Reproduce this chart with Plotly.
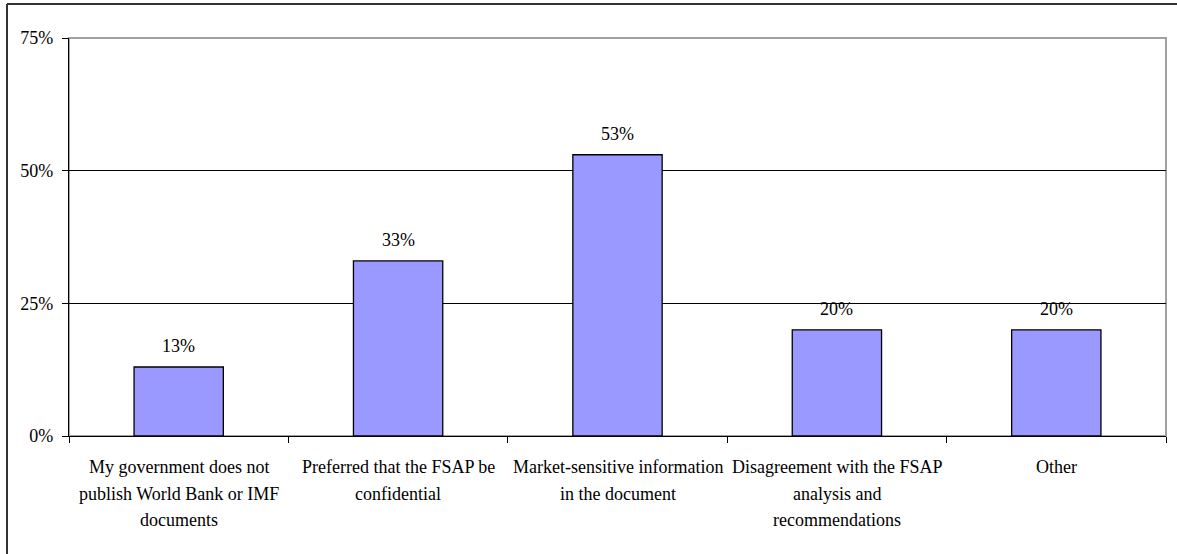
import plotly.graph_objects as go

# Survey responses: reasons for not publishing the FSAP
categories = [
    "Government policy",
    "Confidentiality",
    "Market-sensitive",
    "Disagreement",
    "Other",
]
category_labels = [
    ["My government does not", "publish World Bank or IMF", "documents"],
    ["Preferred that the FSAP be", "confidential"],
    ["Market-sensitive information", "in the document"],
    ["Disagreement with the FSAP", "analysis and", "recommendations"],
    ["Other"],
]
shares = [13, 33, 53, 20, 20]  # percent of respondents
y_ticks = [0, 25, 50, 75]
y_tick_labels = ["0%", "25%", "50%", "75%"]

FONT = "Liberation Serif, Times New Roman, serif"
FSIZE = 18

W, H = 1177, 554
ML, MR, MT, MB = 69, 11, 38, 118
pw, ph = W - ML - MR, H - MT - MB

fig = go.Figure(
    go.Bar(
        x=categories,
        y=shares,
        width=0.407,
        marker=dict(color="#9999FF", line=dict(color="#000000", width=1.3)),
        cliponaxis=False,
        hoverinfo="x+y",
    )
)

# Value labels above each bar
for cat, v in zip(categories, shares):
    fig.add_annotation(
        x=cat, y=v, xref="x", yref="y", text=f"{v}%", showarrow=False,
        yanchor="bottom", yshift=9,
        font=dict(family=FONT, size=FSIZE, color="#000000"),
    )

# Multi-line category labels under the axis
LINE_STEP = 26.5
for cat, lines in zip(categories, category_labels):
    for i, line in enumerate(lines):
        fig.add_annotation(
            x=cat, y=0, xref="x", yref="paper", text=line, showarrow=False,
            yanchor="middle", yshift=-31 - i * LINE_STEP,
            font=dict(family=FONT, size=FSIZE, color="#000000"),
        )

fig.update_layout(
    width=W,
    height=H,
    margin=dict(l=ML, r=MR, t=MT, b=MB),
    paper_bgcolor="#FFFFFF",
    plot_bgcolor="#FFFFFF",
    showlegend=False,
    font=dict(family=FONT, size=FSIZE, color="#000000"),
)

fig.update_xaxes(
    type="category",
    categoryorder="array",
    categoryarray=categories,
    tickson="boundaries",
    ticks="outside",
    ticklen=6,
    tickcolor="#000000",
    tickwidth=1,
    showline=True,
    linecolor="#000000",
    linewidth=1.3,
    showgrid=False,
    showticklabels=False,
    automargin=False,
)

fig.update_yaxes(
    range=[0, 75],
    tickvals=y_ticks,
    ticktext=y_tick_labels,
    ticks="outside",
    ticklen=6,
    tickcolor="#000000",
    ticklabelstandoff=5,
    showline=True,
    linecolor="#000000",
    linewidth=1.3,
    showgrid=True,
    gridcolor="#000000",
    gridwidth=1,
    zeroline=False,
    tickfont=dict(family=FONT, size=FSIZE, color="#000000"),
    automargin=False,
)

# Grey plot-area border (top and right edges)
fig.add_shape(type="rect", xref="paper", yref="paper", x0=0, y0=0, x1=1, y1=1,
              line=dict(color="#A0A0A0", width=2), layer="below")

# Outer chart frame: top and left edges run off the page
frame_left = (7 - ML) / pw
frame_top = (H - MB - 4) / ph
frame_style = dict(color="#333333", width=2)
fig.add_shape(type="line", xref="paper", yref="paper",
              x0=frame_left, y0=frame_top, x1=1.2, y1=frame_top, line=frame_style)
fig.add_shape(type="line", xref="paper", yref="paper",
              x0=frame_left, y0=frame_top, x1=frame_left, y1=-0.6, line=frame_style)

fig.write_html("out.html")
